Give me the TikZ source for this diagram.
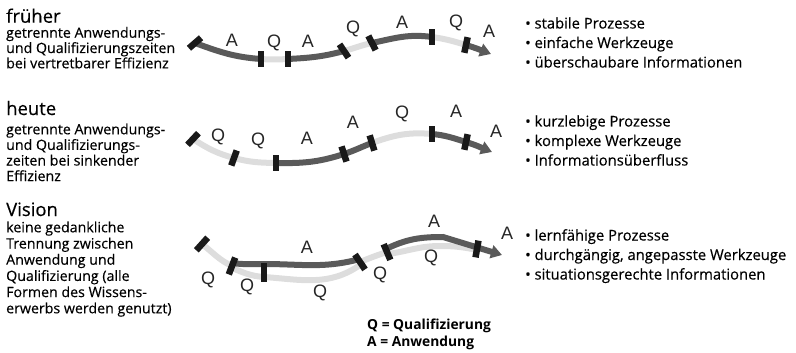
\documentclass[tikz,border=0pt]{standalone}
\usepackage{fontspec}
\setmainfont{Open Sans}[FakeBold=0.3]
\newfontfamily\lblfont{Liberation Sans}
\newfontfamily\keyfont{Open Sans Bold}
\usetikzlibrary{arrows.meta}
\definecolor{agray}{RGB}{90,90,90}
\definecolor{qgray}{RGB}{221,221,221}
\begin{document}
\begin{tikzpicture}[x=1pt,y=1pt,
  aseg/.style={draw=agray, line width=6pt},
  qseg/.style={draw=qgray, line width=6pt},
  tip/.style={-{Triangle[length=11pt,width=13pt]}},
  bar/.style={rectangle, fill=black!90, inner sep=0pt, minimum width=6.5pt, minimum height=16pt},
  lbl/.style={font=\lblfont\fontsize{18}{18}\selectfont, inner sep=0pt, text=black!85},
  title/.style={font=\fontsize{18.5}{20}\selectfont, anchor=base west, inner sep=0pt, text=black},
  body/.style={font=\fontsize{14.2}{16}\selectfont, anchor=base west, inner sep=0pt, text=black},
  item/.style={font=\fontsize{14.8}{16}\selectfont, anchor=base west, inner sep=0pt, text=black},
  key/.style={font=\keyfont\fontsize{13.8}{16}\selectfont, anchor=base west, inner sep=0pt, text=black}]
\useasboundingbox (0,0) rectangle (796,-353);

% ---------- left column: headings and descriptions ----------
\node[title] (t1) at (6,-22.7) {früher};
\foreach \t [count=\i] in {getrennte Anwendungs-, und Qualifizierungszeiten, bei vertretbarer Effizienz}
  \node[body] (d1-\i) at (6,{-37.7-15.3*(\i-1)}) {\t};

\node[title] (t2) at (6,-115) {heute};
\foreach \t [count=\i] in {getrennte Anwendungs-, und Qualifizierungs-, zeiten bei sinkender, Effizienz}
  \node[body] (d2-\i) at (6,{-134.3-15.6*(\i-1)}) {\t};

\node[title] (t3) at (6,-216) {Vision};
\foreach \t [count=\i] in {keine gedankliche, Trennung zwischen, Anwendung und, Qualifizierung (alle, Formen des Wissens-, erwerbs werden genutzt)}
  \node[body] (d3-\i) at (6,{-232.3-16.2*(\i-1)}) {\t};

% ---------- row 1: früher ----------
\coordinate (e0) at (195,-43);
\coordinate (e1) at (261,-59);
\coordinate (e2) at (288,-59);
\coordinate (e3) at (344,-51);
\coordinate (e4) at (372,-43);
\coordinate (e5) at (432,-37);
\coordinate (e6) at (466,-45);
\coordinate (e7) at (491,-54);
\draw[aseg] (e0) to[out=-20,in=176] (e1);
\draw[qseg] (e1) to[out=-4,in=183] (e2);
\draw[aseg] (e2) to[out=3,in=195] (e3);
\draw[qseg] (e3) to[out=15,in=192] (e4);
\draw[aseg] (e4) to[out=12,in=172] (e5);
\draw[qseg] (e5) to[out=-8,in=163] (e6);
\draw[aseg,tip] (e6) to[out=-17,in=159] (e7);
\node[bar,rotate=-49] (eb0) at (e0) {};
\node[bar] (eb1) at (e1) {};
\node[bar] (eb2) at (e2) {};
\node[bar,rotate=34] (eb3) at (e3) {};
\node[bar,rotate=27] (eb4) at (e4) {};
\node[bar] (eb5) at (e5) {};
\node[bar,rotate=-12] (eb6) at (e6) {};
\node[lbl] (el1) at (232,-40) {A};
\node[lbl] (el2) at (274,-43) {Q};
\node[lbl] (el3) at (308,-41) {A};
\node[lbl] (el4) at (353,-29) {Q};
\node[lbl] (el5) at (402,-22) {A};
\node[lbl] (el6) at (456,-23) {Q};
\node[lbl] (el7) at (489,-31) {A};

% ---------- row 2: heute ----------
\coordinate (h0) at (193,-139);
\coordinate (h1) at (234,-158);
\coordinate (h2) at (276,-163);
\coordinate (h3) at (344,-154);
\coordinate (h4) at (372,-143);
\coordinate (h5) at (432,-134);
\coordinate (h6) at (466,-142);
\coordinate (h7) at (492,-152);
\draw[qseg] (h0) to[out=-33,in=165] (h1);
\draw[qseg] (h1) to[out=-15,in=179] (h2);
\draw[aseg] (h2) to[out=-1,in=198] (h3);
\draw[aseg] (h3) to[out=18,in=200] (h4);
\draw[qseg] (h4) to[out=20,in=175] (h5);
\draw[aseg] (h5) to[out=-5,in=163] (h6);
\draw[aseg,tip] (h6) to[out=-17,in=158] (h7);
\node[bar,rotate=-43] (hb0) at (h0) {};
\node[bar,rotate=-20] (hb1) at (h1) {};
\node[bar] (hb2) at (h2) {};
\node[bar,rotate=18] (hb3) at (h3) {};
\node[bar,rotate=17] (hb4) at (h4) {};
\node[bar] (hb5) at (h5) {};
\node[bar,rotate=-12] (hb6) at (h6) {};
\node[lbl] (hl1) at (218,-137) {Q};
\node[lbl] (hl2) at (258,-141) {Q};
\node[lbl] (hl3) at (307,-138) {A};
\node[lbl] (hl4) at (353,-122) {A};
\node[lbl] (hl5) at (402,-114) {Q};
\node[lbl] (hl6) at (456,-111) {A};
\node[lbl] (hl7) at (496,-131) {A};

% ---------- row 3: Vision (parallel strands) ----------
\coordinate (v0) at (202,-244);
\coordinate (v1) at (232,-266);
\coordinate (v1q) at (232,-268);
\coordinate (v1a) at (232,-263);
\coordinate (v2q) at (264,-277);
\coordinate (v2a) at (264,-264);
\coordinate (v3) at (360,-262);
\coordinate (v3q) at (360,-265);
\coordinate (v3a) at (360,-259);
\coordinate (v4) at (387,-252);
\coordinate (v4q) at (388,-254);
\coordinate (v4a) at (388,-248);
\coordinate (v5q) at (440,-246);
\coordinate (v5a) at (443,-237);
\coordinate (v6) at (477,-249);
\coordinate (v6q) at (477,-250);
\coordinate (v7) at (502,-255);
% light strand
\draw[qseg] (v0) to[out=-38,in=155] (v1);
\draw[qseg] (v1q) to[out=-22,in=176] (v2q) to[out=-4,in=215] (v3q);
\draw[qseg] (v3) to[out=22,in=198] (v4);
\draw[qseg] (v4q) to[out=8,in=180] (v5q) to[out=0,in=168] (v6q);
% dark strand
\draw[aseg] (v1a) to[out=-8,in=180] (v2a) to[out=0,in=195] (v3a);
\draw[aseg,tip] (v4a) to[out=25,in=180] (v5a) -- (v7);
\node[bar,rotate=-42,minimum height=17pt] (vb0) at (v0) {};
\node[bar,rotate=-21,minimum height=18pt] (vb1) at (v1) {};
\node[bar,minimum height=19pt] (vb2) at (264,-272) {};
\node[bar,rotate=34,minimum height=18pt] (vb3) at (v3) {};
\node[bar,rotate=23,minimum height=17pt] (vb4) at (v4) {};
\node[bar,rotate=-10,minimum height=17pt] (vb5) at (v6) {};
\node[lbl] (vl1) at (208,-280) {Q};
\node[lbl] (vl2) at (247,-287) {Q};
\node[lbl] (vl3) at (307,-247) {A};
\node[lbl] (vl4) at (320,-293) {Q};
\node[lbl] (vl5) at (380,-275) {Q};
\node[lbl] (vl6) at (434,-221) {A};
\node[lbl] (vl7) at (431,-258) {Q};
\node[lbl] (vl8) at (507,-233) {A};

% ---------- right column: characteristics ----------
\foreach \t [count=\i] in {• stabile Prozesse, • einfache Werkzeuge, • überschaubare Informationen}
  \node[item] (r1-\i) at (525,{-28.5-19.5*(\i-1)}) {\t};
\foreach \t [count=\i] in {• kurzlebige Prozesse, • komplexe Werkzeuge, • Informationsüberfluss}
  \node[item] (r2-\i) at (525,{-126.5-19.5*(\i-1)}) {\t};
\foreach \t [count=\i] in {• lernfähige Prozesse, {• durchgängig, angepasste Werkzeuge}, • situationsgerechte Informationen}
  \node[item] (r3-\i) at (525,{-240.5-19.5*(\i-1)}) {\t};

% ---------- key ----------
\node[key] (k1) at (367,-329.3) {Q = Qualifizierung};
\node[key] (k2) at (367,-346.7) {A = Anwendung};
\end{tikzpicture}
\end{document}
